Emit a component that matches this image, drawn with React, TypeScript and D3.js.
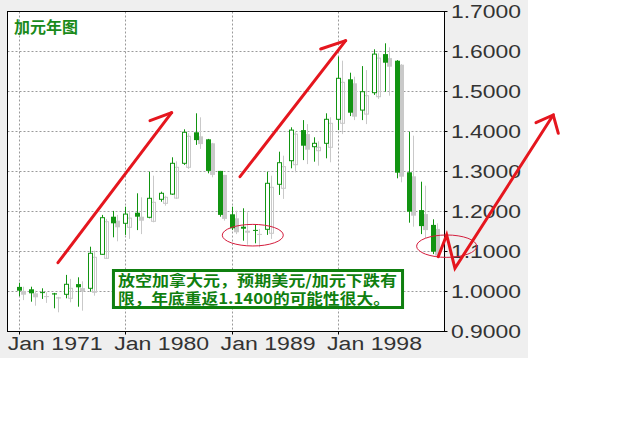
import React from "react";
import * as d3 from "d3";

const years = [1971,1972,1973,1974,1975,1976,1977,1978,1979,1980,1981,1982,1983,1984,1985,1986,1987,1988,1989,1990,1991,1992,1993,1994,1995,1996,1997,1998,1999,2000,2001,2002,2003,2004,2005,2006];
const opens = [1.012,1.006,0.999,0.996,0.9935,1.019,1.0085,1.0935,1.1875,1.171,1.1975,1.186,1.231,1.244,1.321,1.3985,1.381,1.302,1.1935,1.1625,1.1545,1.156,1.2685,1.3275,1.404,1.3625,1.371,1.431,1.531,1.454,1.4975,1.594,1.5775,1.2985,1.204,1.167];
const highs = [1.0225,1.0125,1.0085,0.997,1.042,1.036,1.1125,1.192,1.202,1.2125,1.246,1.300,1.250,1.336,1.406,1.446,1.382,1.302,1.2125,1.2085,1.167,1.300,1.350,1.411,1.429,1.386,1.446,1.5875,1.5475,1.564,1.606,1.621,1.579,1.400,1.275,1.181];
const lows = [0.989,0.975,0.982,0.9585,0.9835,0.9625,1.000,1.092,1.136,1.142,1.154,1.1835,1.225,1.242,1.317,1.367,1.296,1.1875,1.154,1.1275,1.121,1.142,1.242,1.3085,1.329,1.325,1.3335,1.404,1.439,1.429,1.492,1.500,1.2835,1.1725,1.144,1.094];
const closes = [1.0025,0.996,0.997,0.993,1.0185,1.011,1.096,1.185,1.171,1.194,1.1875,1.2335,1.246,1.321,1.3985,1.379,1.302,1.192,1.1585,1.1575,1.1535,1.271,1.3225,1.404,1.365,1.371,1.431,1.5335,1.4475,1.500,1.594,1.5725,1.2975,1.200,1.164,1.100];

const xTickYears = [1971, 1980, 1989, 1998];
const xTickLabels = ["Jan 1971", "Jan 1980", "Jan 1989", "Jan 1998"];
const yTicks = [0.9, 1.0, 1.1, 1.2, 1.3, 1.4, 1.5, 1.6, 1.7];
const gridValues = [1.0, 1.1, 1.2, 1.3, 1.4, 1.5, 1.6];

const title = "加元年图";
const noteLines = ["放空加拿大元，预期美元/加元下跌有", "限，年底重返1.1400的可能性很大。"];

// annotation geometry in data space [year, value]
const arrow1 = [[1974.32, 1.0725], [1983.93, 1.4475]];
const arrow1Barb = [[1982.1, 1.4275], [1983.93, 1.4475]];
const arrow2 = [[1989.71, 1.2875], [1998.64, 1.6275]];
const arrow2Barb = [[1996.53, 1.6068], [1998.64, 1.6275]];
const arrow3 = [[2006.47, 1.0875], [2007.18, 1.1418], [2007.88, 1.0585], [2016.19, 1.4418]];
const arrow3Barb = [[2014.73, 1.4225], [2016.19, 1.4418], [2016.62, 1.396]];
const ellipses = [
  { cx: 1990.79, cy: 1.1413, rx: 2.58, ry: 0.027 },
  { cx: 2007.18, cy: 1.1138, rx: 2.54, ry: 0.028 },
];
const noteBox = { x0: 1979.01, y0: 1.053, x1: 2003.45, y1: 0.9605 };

const GREEN = "#119411";
const SHADOW = "#c9c9c9";
const RED = "#e5161e";

export default function App() {
  const x = d3.scaleLinear().domain([1971, 2006]).range([18.7, 432.7]);
  const y = d3.scaleLinear().domain([0.9, 1.7]).range([331.7, 11.7]);
  const line = d3.line<number[]>().x((d) => x(d[0])).y((d) => y(d[1]));

  const L = 7.5, R = 444.5, T = 11.5, B = 331.5;

  const candles = (color: string, shadow: boolean) =>
    years.map((yr, i) => {
      const o = opens[i], c = closes[i], h = highs[i], l = lows[i];
      const cx = Math.round(x(yr)) + 0.5;
      const up = c > o;
      const top = y(Math.max(o, c));
      const bot = y(Math.min(o, c));
      const hgt = Math.max(1, bot - top);
      return (
        <g key={yr}>
          <line x1={cx} x2={cx} y1={y(h)} y2={y(l)} stroke={color} strokeWidth={1} />
          {up ? (
            <rect x={cx - 2} y={top} width={4} height={Math.max(1, hgt)} fill={shadow ? "none" : "#fff"} stroke={color} strokeWidth={1} />
          ) : (
            <rect x={cx - 2.5} y={top} width={5} height={hgt} fill={color} />
          )}
        </g>
      );
    });

  const b = noteBox;
  const bx = x(b.x0), by = y(b.y0), bw = x(b.x1) - x(b.x0), bh = y(b.y1) - y(b.y0);

  return (
    <svg width={626} height={439} style={{ position: "absolute", left: 0, top: 0, background: "#fff" }}>
      <rect x={0} y={0} width={528} height={358} fill="#efefef" />
      <rect x={L} y={T} width={R - L} height={B - T} fill="#fff" />
      {gridValues.map((v) => (
        <line key={v} x1={L} x2={R} y1={Math.floor(y(v)) + 0.5} y2={Math.floor(y(v)) + 0.5} stroke="#9a9a9a" strokeDasharray="2,2" />
      ))}
      {xTickYears.map((yr) => (
        <line key={yr} x1={Math.round(x(yr)) + 0.5} x2={Math.round(x(yr)) + 0.5} y1={T} y2={B} stroke="#9a9a9a" strokeDasharray="2,2" />
      ))}
      <text x={14} y={33} fontFamily="'Noto Sans CJK SC'" fontWeight={700} fontSize={16} fill="#1a8a1a">{title}</text>
      <g transform="translate(4,4)">{candles(SHADOW, true)}</g>
      <g>{candles(GREEN, false)}</g>
      <rect x={L} y={T} width={R - L} height={B - T} fill="none" stroke="#000" strokeWidth={1} />
      {yTicks.map((v) => (
        <g key={v}>
          <line x1={R} x2={R + 3} y1={Math.floor(y(v)) + 0.5} y2={Math.floor(y(v)) + 0.5} stroke="#000" />
          <text x={451} y={y(v) + 6.5} fontFamily="'Liberation Sans', Arial" fontSize={18} fill="#333" textLength={70} lengthAdjust="spacingAndGlyphs">{v.toFixed(4)}</text>
        </g>
      ))}
      {xTickYears.map((yr, i) => (
        <g key={yr}>
          <line x1={Math.round(x(yr)) + 0.5} x2={Math.round(x(yr)) + 0.5} y1={B} y2={B + 3} stroke="#000" />
          <text x={x(yr) - 11} y={350} fontFamily="'Liberation Sans', Arial" fontSize={18} fill="#333" textLength={95} lengthAdjust="spacingAndGlyphs">{xTickLabels[i]}</text>
        </g>
      ))}
      <rect x={bx} y={by} width={bw} height={bh} fill="#fff" stroke="#0f7f0f" strokeWidth={3} />
      <text fontFamily="'Noto Sans CJK SC'" fontWeight={700} fontSize={15} fill="#0f7f0f">
        <tspan x={bx + 4.5} y={by + 15} textLength={279} lengthAdjust="spacingAndGlyphs">{noteLines[0]}</tspan>
        <tspan x={bx + 4.5} y={by + 33} textLength={272} lengthAdjust="spacingAndGlyphs">{noteLines[1]}</tspan>
      </text>
      {ellipses.map((e, i) => (
        <ellipse key={i} cx={x(e.cx)} cy={y(e.cy)} rx={x(e.cx + e.rx) - x(e.cx)} ry={y(e.cy - e.ry) - y(e.cy)} fill="none" stroke="#d41c3c" strokeWidth={1} />
      ))}
      {[arrow1, arrow1Barb, arrow2, arrow2Barb, arrow3, arrow3Barb].map((pts, i) => (
        <path key={i} d={line(pts as number[][]) || ""} fill="none" stroke={RED} strokeWidth={3} strokeLinecap="round" strokeLinejoin="miter" />
      ))}
    </svg>
  );
}
